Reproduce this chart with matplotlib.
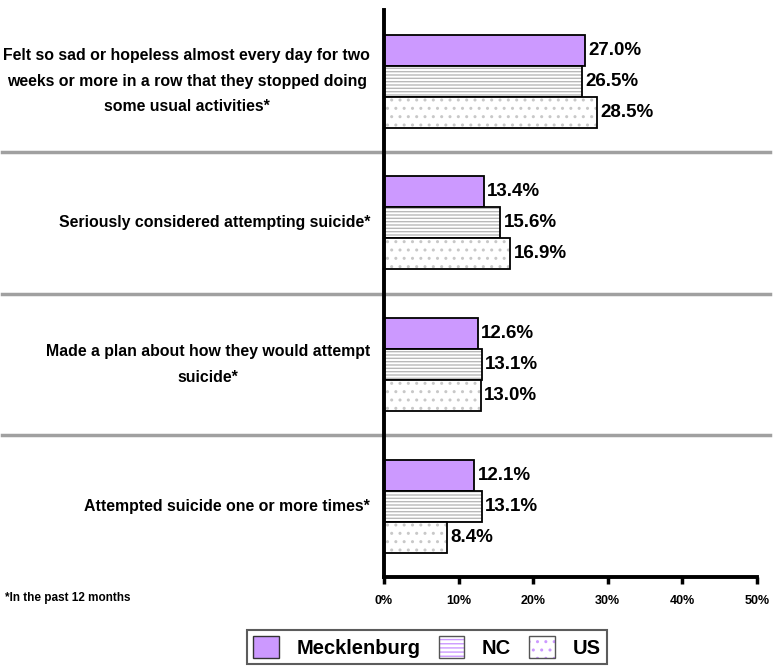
import matplotlib.pyplot as plt
import matplotlib.transforms as mtransforms
from matplotlib.patches import Patch
import numpy as np

categories = [
    "Felt so sad or hopeless almost every day for two\nweeks or more in a row that they stopped doing\nsome usual activities*",
    "Seriously considered attempting suicide*",
    "Made a plan about how they would attempt\nsuicide*",
    "Attempted suicide one or more times*",
]
series_names = ["Mecklenburg", "NC", "US"]
mecklenburg = [27.0, 13.4, 12.6, 12.1]
nc = [26.5, 15.6, 13.1, 13.1]
us = [28.5, 16.9, 13.0, 8.4]
x_ticks = [0, 10, 20, 30, 40, 50]
footnote = "*In the past 12 months"

plt.rcParams['font.family'] = ['Liberation Sans', 'DejaVu Sans']
plt.rcParams['font.weight'] = 'bold'

purple = "#cc99ff"
line_gray = "#b8b8b8"
dot_gray = "#c8c8c8"

fig = plt.figure(figsize=(7.83, 6.66), dpi=100)
ax = fig.add_axes([0.4904, 0.1336, 0.4764, 0.851])

y = np.arange(len(categories))
h = 0.219
styles = [
    dict(values=mecklenburg, face=purple, hatch=None, hc=None),
    dict(values=nc, face="white", hatch="-----", hc=line_gray),
    dict(values=us, face="white", hatch="..", hc=dot_gray),
]
for i, s in enumerate(styles):
    pos = y + (i - 1) * h
    if s["hatch"]:
        ax.barh(pos, s["values"], height=h, color=s["face"], edgecolor=s["hc"],
                hatch=s["hatch"], linewidth=0)
        ax.barh(pos, s["values"], height=h, fill=False, edgecolor="black", linewidth=1.3)
    else:
        ax.barh(pos, s["values"], height=h, color=s["face"], edgecolor="black", linewidth=1.3)
    for p, v in zip(pos, s["values"]):
        ax.text(v + 0.45, p, f"{v:.1f}%", va="center", ha="left", fontsize=13.5, fontweight="bold")

ax.set_xlim(0, 50)
ax.set_ylim(3.5, -0.5)
ax.set_xticks(x_ticks)
ax.set_xticklabels([f"{t}%" for t in x_ticks], fontsize=9, fontweight="bold")
ax.tick_params(axis="x", direction="out", length=5, width=2.5, pad=8)
ax.set_yticks([])
for side in ["top", "right"]:
    ax.spines[side].set_visible(False)
ax.spines["left"].set_linewidth(2.8)
ax.spines["bottom"].set_linewidth(2.8)

# gray separators across the full width
trans = mtransforms.blended_transform_factory(fig.transFigure, ax.transData)
for sep in [0.5, 1.5, 2.5]:
    ax.plot([0.002, 0.983], [sep, sep], transform=trans, color="#a0a0a0",
            linewidth=2.5, clip_on=False, zorder=0)

# category labels
for yi, c in zip(y, categories):
    ax.text(370 / 783, yi, c, transform=trans, ha="right", va="center",
            multialignment="center", fontsize=11.4, fontweight="bold", linespacing=1.9)

fig.text(5 / 783, 1 - 598 / 666, footnote, ha="left", va="center", fontsize=8.5, fontweight="bold")

def legend_handle(face, hatch):
    if hatch is None:
        return Patch(facecolor=face, edgecolor="#333333", linewidth=1.0)
    return (Patch(facecolor="white", edgecolor=purple, hatch=hatch, linewidth=0),
            Patch(fill=False, edgecolor="#555555", linewidth=1.0))

handles = [legend_handle(purple, None), legend_handle("white", "----"), legend_handle("white", "..")]
leg = fig.legend(handles, series_names, loc="center", bbox_to_anchor=(427 / 783, 1 - 647 / 666),
                 ncol=3, frameon=True, fancybox=False, edgecolor="#333333",
                 prop={"size": 14.5, "weight": "bold"}, handlelength=1.25, handleheight=1.25,
                 columnspacing=0.9, handletextpad=0.9, borderpad=0.3, borderaxespad=0)
leg.get_frame().set_linewidth(1.5)

fig.savefig("out.png", dpi=100)
